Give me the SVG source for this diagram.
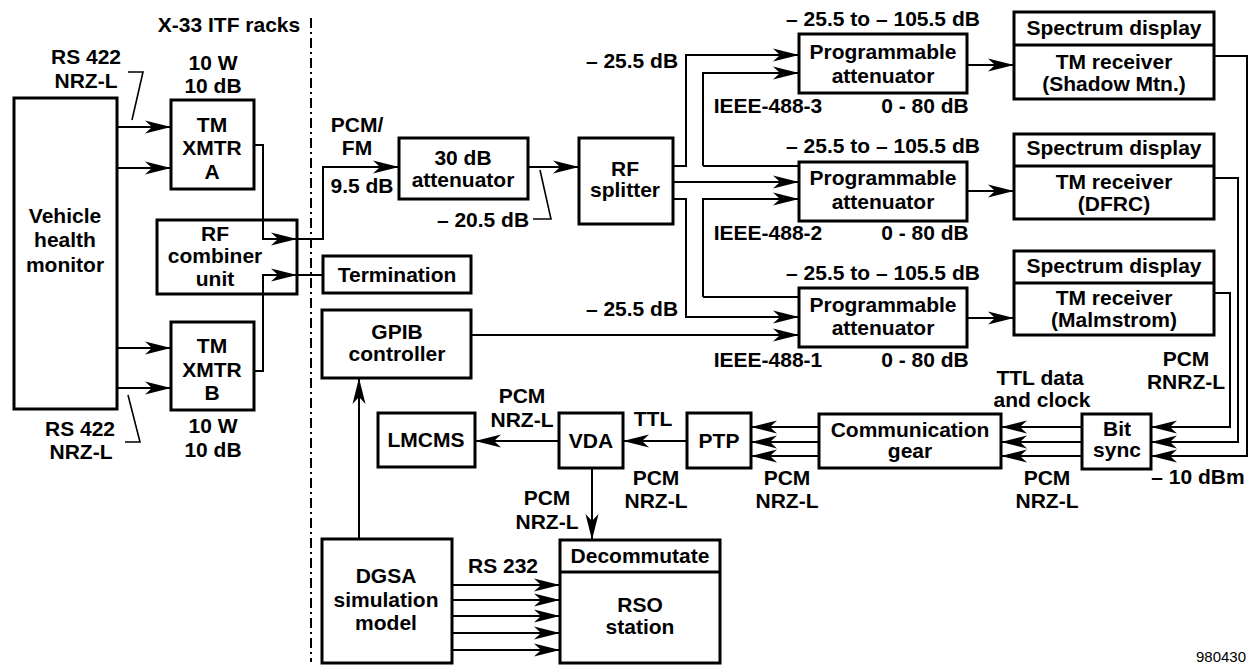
<svg xmlns="http://www.w3.org/2000/svg" width="1254" height="665" viewBox="0 0 1254 665">
<style>
.box{fill:#fff;stroke:#000;stroke-width:3}
.ln{fill:none;stroke:#000;stroke-width:2}
.ld{fill:none;stroke:#000;stroke-width:1.6}
.ar{marker-end:url(#ah)}
text{font-family:"Liberation Sans",Arial,Helvetica,sans-serif;font-weight:bold;font-size:21px;text-anchor:middle;fill:#000}
.sm{font-weight:normal;font-size:15px}
</style>
<defs>
<marker id="ah" markerUnits="userSpaceOnUse" markerWidth="28" markerHeight="16" viewBox="-27 -8 28 16" refX="0" refY="0" orient="auto">
<path d="M0,0 L-26,-6.5 L-19,0 L-26,6.5 Z" fill="#000"/>
</marker>
</defs>
<rect width="1254" height="665" fill="#fff"/>

<g id="connectors">
<line x1="311" y1="18" x2="311" y2="662" stroke="#000" stroke-width="2" stroke-dasharray="10 4 2 4"/>
<path class="ln ar" d="M117,127H171"/>
<path class="ln ar" d="M117,168H171"/>
<path class="ln ar" d="M117,348H171"/>
<path class="ln ar" d="M117,388H171"/>
<path class="ln ar" d="M254,145H263V239H297"/>
<path class="ln ar" d="M297,239H323V167H399"/>
<path class="ln ar" d="M254,371H263V275H297"/>
<path class="ln" d="M297,275H323"/>
<path class="ln ar" d="M528,167H579"/>
<path class="ln ar" d="M673,166H686V55H799"/>
<path class="ln" d="M703,166H799"/>
<path class="ln ar" d="M703,166V73H799"/>
<path class="ln ar" d="M673,182H799"/>
<path class="ln ar" d="M703,297V199H799"/>
<path class="ln" d="M703,297H799"/>
<path class="ln ar" d="M673,199H686V317H799"/>
<path class="ln ar" d="M471,335H799"/>
<path class="ln ar" d="M967,65H1014"/>
<path class="ln ar" d="M967,191H1014"/>
<path class="ln ar" d="M967,318H1014"/>
<path class="ln ar" d="M1214,56H1247V456H1151"/>
<path class="ln ar" d="M1214,178H1238V442H1151"/>
<path class="ln ar" d="M1214,293H1230V427H1151"/>
<path class="ln ar" d="M1082,427H1001"/>
<path class="ln ar" d="M1082,442H1001"/>
<path class="ln ar" d="M1082,456H1001"/>
<path class="ln ar" d="M819,427H751"/>
<path class="ln ar" d="M819,442H751"/>
<path class="ln ar" d="M819,456H751"/>
<path class="ln ar" d="M687,441H623"/>
<path class="ln ar" d="M559,441H475"/>
<path class="ln ar" d="M592,468V540"/>
<path class="ln ar" d="M452,585H560"/>
<path class="ln ar" d="M452,600H560"/>
<path class="ln ar" d="M452,616H560"/>
<path class="ln ar" d="M452,633H560"/>
<path class="ln ar" d="M452,650H560"/>
<path class="ln ar" d="M359,539V378"/>
<path class="ld" d="M128,72H143L132,120"/>
<path class="ld" d="M125,442H140L128,395"/>
<path class="ld" d="M533,219H551L540,170"/>
</g>

<g id="labels">
<text x="229" y="32">X-33 ITF racks</text>
<text x="86" y="64">RS 422</text>
<text x="86" y="88">NRZ-L</text>
<text x="213" y="70">10 W</text>
<text x="213" y="93">10 dB</text>
<text x="80" y="436">RS 422</text>
<text x="81" y="459">NRZ-L</text>
<text x="213" y="433">10 W</text>
<text x="213" y="457">10 dB</text>
<text x="357" y="132">PCM/</text>
<text x="357" y="155">FM</text>
<text x="362" y="193">9.5 dB</text>
<text x="632" y="68">– 25.5 dB</text>
<text x="632" y="316">– 25.5 dB</text>
<text x="483" y="227">– 20.5 dB</text>
<text x="883" y="26">– 25.5 to – 105.5 dB</text>
<text x="883" y="153">– 25.5 to – 105.5 dB</text>
<text x="883" y="280">– 25.5 to – 105.5 dB</text>
<text x="768" y="113">IEEE-488-3</text>
<text x="925" y="113">0 - 80 dB</text>
<text x="768" y="240">IEEE-488-2</text>
<text x="925" y="240">0 - 80 dB</text>
<text x="768" y="367">IEEE-488-1</text>
<text x="925" y="367">0 - 80 dB</text>
<text x="1186" y="366">PCM</text>
<text x="1186" y="389">RNRZ-L</text>
<text x="1198" y="484">– 10 dBm</text>
<text x="1040" y="385">TTL data</text>
<text x="1042" y="407">and clock</text>
<text x="1047" y="485">PCM</text>
<text x="1047" y="508">NRZ-L</text>
<text x="787" y="485">PCM</text>
<text x="787" y="508">NRZ-L</text>
<text x="653" y="426">TTL</text>
<text x="656" y="485">PCM</text>
<text x="656" y="508">NRZ-L</text>
<text x="522" y="403">PCM</text>
<text x="522" y="427">NRZ-L</text>
<text x="547" y="505">PCM</text>
<text x="547" y="529">NRZ-L</text>
<text x="503" y="573">RS 232</text>
<text class="sm" x="1221" y="662">980430</text>
</g>

<g id="vhm"><rect class="box" x="14" y="98" width="103" height="311"/>
<text x="65" y="223">Vehicle</text><text x="65" y="247">health</text><text x="65" y="272">monitor</text></g>
<g id="xmtrA"><rect class="box" x="171" y="100" width="83" height="89"/>
<text x="212" y="132">TM</text><text x="212" y="155">XMTR</text><text x="212" y="179">A</text></g>
<g id="xmtrB"><rect class="box" x="171" y="322" width="83" height="88"/>
<text x="212" y="353">TM</text><text x="212" y="377">XMTR</text><text x="212" y="400">B</text></g>
<g id="combiner"><rect class="box" x="157" y="220" width="140" height="74" style="fill:none"/>
<text x="215" y="241">RF</text><text x="215" y="263">combiner</text><text x="215" y="286">unit</text></g>
<g id="termination"><rect class="box" x="323" y="256" width="148" height="37"/>
<text x="397" y="282">Termination</text></g>
<g id="gpib"><rect class="box" x="322" y="310" width="149" height="68"/>
<text x="397" y="339">GPIB</text><text x="397" y="361">controller</text></g>
<g id="lmcms"><rect class="box" x="378" y="413" width="97" height="54"/>
<text x="426" y="447">LMCMS</text></g>
<g id="vda"><rect class="box" x="559" y="413" width="64" height="55"/>
<text x="591" y="448">VDA</text></g>
<g id="ptp"><rect class="box" x="687" y="413" width="64" height="55"/>
<text x="719" y="448">PTP</text></g>
<g id="commgear"><rect class="box" x="819" y="414" width="182" height="54"/>
<text x="910" y="437">Communication</text><text x="910" y="458">gear</text></g>
<g id="bitsync"><rect class="box" x="1082" y="414" width="69" height="55"/>
<text x="1117" y="436">Bit</text><text x="1117" y="457">sync</text></g>
<g id="dgsa"><rect class="box" x="322" y="539" width="130" height="124"/>
<text x="386" y="583">DGSA</text><text x="386" y="607">simulation</text><text x="386" y="630">model</text></g>
<g id="rso"><rect class="box" x="560" y="540" width="160" height="123"/>
<line x1="560" y1="572" x2="720" y2="572" stroke="#000" stroke-width="3"/>
<text x="640" y="563">Decommutate</text><text x="640" y="612">RSO</text><text x="640" y="634">station</text></g>
<g id="att30"><rect class="box" x="399" y="138" width="129" height="61"/>
<text x="463" y="165">30 dB</text><text x="463" y="187">attenuator</text></g>
<g id="splitter"><rect class="box" x="579" y="138" width="94" height="86"/>
<text x="625" y="176">RF</text><text x="625" y="197">splitter</text></g>
<g id="patt1"><rect class="box" x="799" y="34" width="168" height="59"/>
<text x="883" y="59">Programmable</text><text x="883" y="83">attenuator</text></g>
<g id="patt2"><rect class="box" x="799" y="162" width="168" height="59"/>
<text x="883" y="185">Programmable</text><text x="883" y="209">attenuator</text></g>
<g id="patt3"><rect class="box" x="799" y="288" width="168" height="59"/>
<text x="883" y="312">Programmable</text><text x="883" y="335">attenuator</text></g>
<g id="rx1"><rect class="box" x="1014" y="12" width="200" height="87"/>
<line x1="1014" y1="45" x2="1214" y2="45" stroke="#000" stroke-width="3"/>
<text x="1114" y="35">Spectrum display</text><text x="1114" y="69">TM receiver</text><text x="1114" y="91">(Shadow Mtn.)</text></g>
<g id="rx2"><rect class="box" x="1014" y="134" width="200" height="85"/>
<line x1="1014" y1="166" x2="1214" y2="166" stroke="#000" stroke-width="3"/>
<text x="1114" y="155">Spectrum display</text><text x="1114" y="189">TM receiver</text><text x="1114" y="211">(DFRC)</text></g>
<g id="rx3"><rect class="box" x="1014" y="251" width="200" height="84"/>
<line x1="1014" y1="283" x2="1214" y2="283" stroke="#000" stroke-width="3"/>
<text x="1114" y="273">Spectrum display</text><text x="1114" y="305">TM receiver</text><text x="1114" y="327">(Malmstrom)</text></g>
</svg>
